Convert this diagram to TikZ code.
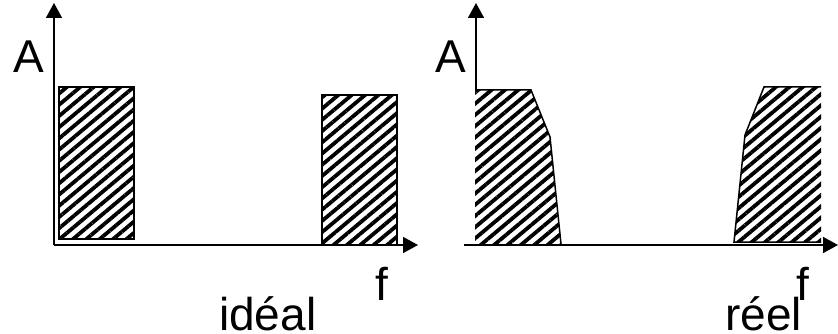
\documentclass[tikz,border=0pt]{standalone}
\usepackage{fontspec}
\setmainfont{Liberation Sans}
\usetikzlibrary{arrows.meta,patterns.meta}
\begin{document}
\begin{tikzpicture}[x=1pt,y=-1pt,
  axis/.style={line width=1.6pt,-{Triangle[length=15pt,width=16pt]}},
  hatch/.style={pattern={Lines[angle=40,distance=8.6pt,line width=3.8pt]}},
  border/.style={line width=1.5pt,line join=miter},
  lbl/.style={inner sep=0pt,anchor=base west,font=\fontsize{46}{50}\selectfont}]
\useasboundingbox (0,0) rectangle (838,334);
% left panel
\coordinate (O1) at (54,245);
\coordinate (Y1) at (54,3);
\coordinate (X1) at (418,245);
\filldraw[hatch,border] (59,87) rectangle (134,239);
\filldraw[hatch,border] (322,95) rectangle (397,245);
\draw[axis] (O1) -- (Y1);
\draw[axis] (O1) -- (X1);
\node[lbl] (A1) at (13,73) {A};
\node[lbl] (F1) at (375.5,300) {f};
\node[lbl] (T1) at (219,330) {idéal};
% right panel
\coordinate (S2) at (476,90);
\coordinate (Y2) at (476,3);
\coordinate (L2) at (464,245);
\coordinate (X2) at (838,245);
\fill[hatch] (475,90) -- (531,90) -- (550,137) -- (561,244) -- (475,244) -- cycle;
\draw[border] (475,90) -- (531,90) -- (550,137) -- (561,244);
\fill[hatch] (764,87) -- (821,87) -- (821,242) -- (734,242) -- (745,135) -- cycle;
\draw[border] (821,87) -- (764,87) -- (745,135) -- (734,242) -- (821,242);
\draw[axis] (S2) -- (Y2);
\draw[axis] (L2) -- (X2);
\node[lbl] (A2) at (435,73) {A};
\node[lbl] (F2) at (796.5,300) {f};
\node[lbl] (T2) at (725,330) {réel};
\end{tikzpicture}
\end{document}
